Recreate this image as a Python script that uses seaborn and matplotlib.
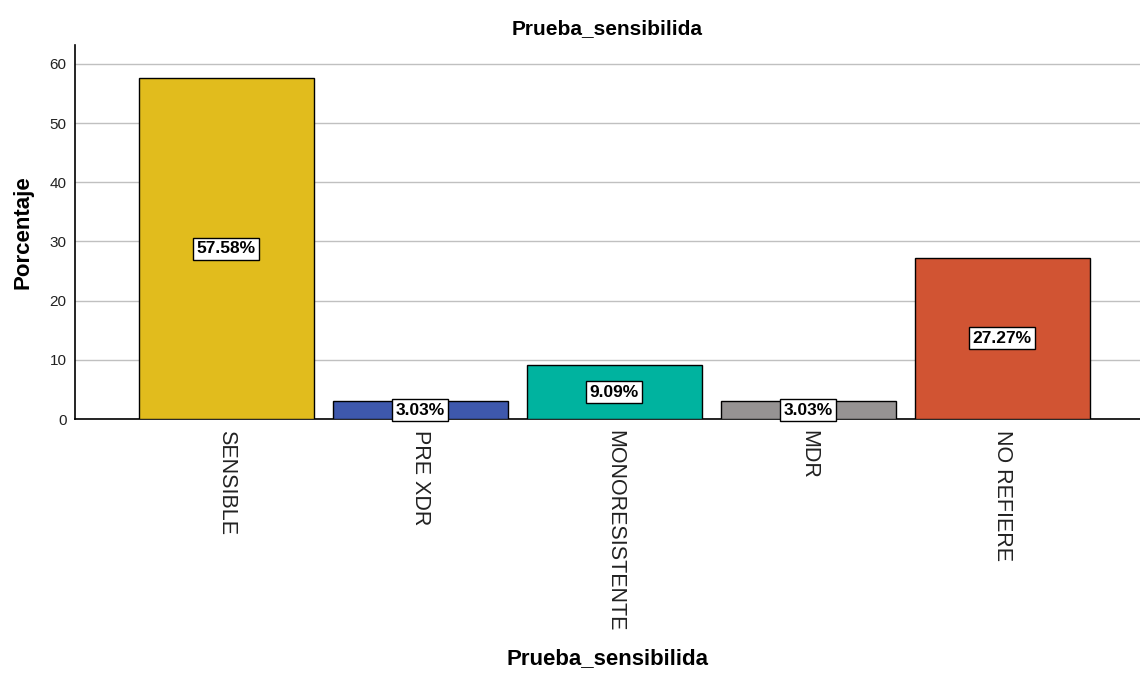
import pandas as pd
import matplotlib.pyplot as plt
import seaborn as sns

# Datos
categorias = ["SENSIBLE", "PRE XDR", "MONORESISTENTE", "MDR", "NO REFIERE"]
porcentajes = [57.58, 3.03, 9.09, 3.03, 27.27]
colores = ["#E1BC1D", "#3E58AC", "#00B39F", "#969393", "#D15433"]

df = pd.DataFrame({"Prueba_sensibilida": categorias, "Porcentaje": porcentajes})

sns.set_style("white")
plt.rcParams["font.family"] = ["Liberation Sans", "DejaVu Sans"]
plt.rcParams["text.color"] = "black"
plt.rcParams["axes.labelcolor"] = "black"

fig = plt.figure(figsize=(11.4, 6.73), dpi=100)
ax = fig.add_axes([0.0658, 0.3774, 0.9342, 0.5557])

sns.barplot(data=df, x="Prueba_sensibilida", y="Porcentaje", hue="Prueba_sensibilida",
            palette=colores, saturation=1, edgecolor="black", linewidth=1, width=0.9,
            legend=False, ax=ax, zorder=3)

# Etiquetas en el centro de cada barra
for i, v in enumerate(porcentajes):
    ax.text(i, v / 2, f"{v:.2f}%", ha="center", va="center", fontsize=12.5,
            fontweight="bold", color="black",
            bbox=dict(facecolor="white", edgecolor="black", linewidth=1, pad=2.5),
            zorder=5)

ax.set_xlim(-0.78, 4.71)
ax.set_ylim(0, 63.2)
ax.set_yticks([0, 10, 20, 30, 40, 50, 60])
ax.yaxis.grid(True, color="#c0c0c0", linewidth=1, zorder=0)
ax.xaxis.grid(False)

for s in ["top", "right"]:
    ax.spines[s].set_visible(False)
for s in ["left", "bottom"]:
    ax.spines[s].set_color("black")
    ax.spines[s].set_linewidth(1.2)

ax.tick_params(axis="y", length=0, pad=6, labelsize=11, labelcolor="#222222")
ax.tick_params(axis="x", length=0, pad=8, labelsize=15.5, labelcolor="#222222")
plt.setp(ax.get_xticklabels(), rotation=270, ha="center", va="top")

ax.set_title("Prueba_sensibilida", fontsize=15, fontweight="bold", pad=8)
ax.set_xlabel("Prueba_sensibilida", fontsize=16, fontweight="bold", labelpad=12)
ax.set_ylabel("Porcentaje", fontsize=16, fontweight="bold", labelpad=12)

fig.savefig("out.png", dpi=100)
